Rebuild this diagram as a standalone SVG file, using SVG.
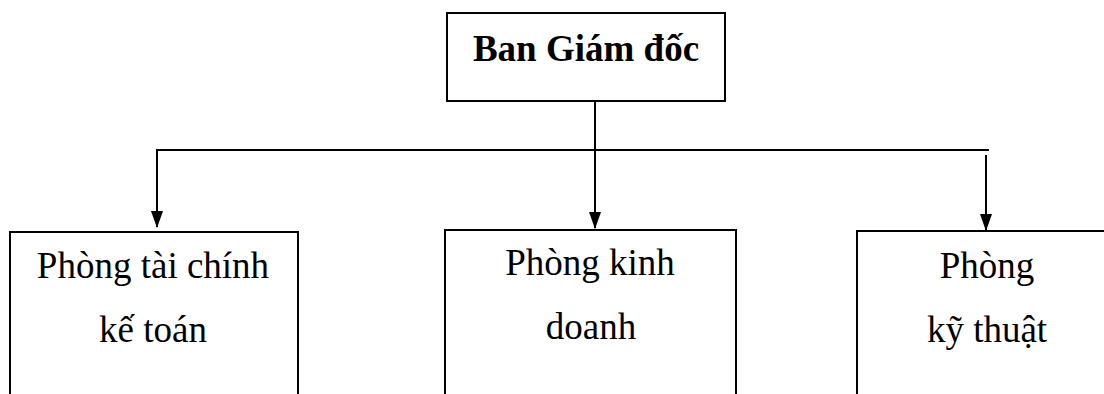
<svg xmlns="http://www.w3.org/2000/svg" width="1104" height="394" viewBox="0 0 1104 394">
<style>
.box{fill:#fff;stroke:#000;stroke-width:2}
.ln{fill:none;stroke:#000;stroke-width:2}
.arr{marker-end:url(#ah)}
.t{font-family:"Liberation Serif","Times New Roman",serif;font-size:37px;fill:#000;text-anchor:middle}
.b{font-weight:bold}
</style>
<defs>
<marker id="ah" viewBox="0 0 17 12" refX="16" refY="6" markerWidth="17" markerHeight="12" markerUnits="userSpaceOnUse" orient="auto">
<path d="M0,0 L17,6 L0,12 z" fill="#000"/>
</marker>
</defs>
<rect width="1104" height="394" fill="#fff"/>
<g id="connectors">
<line class="ln arr" x1="595" y1="101" x2="595" y2="228"/>
<line class="ln" x1="156" y1="150" x2="989" y2="150"/>
<line class="ln arr" x1="157" y1="149" x2="157" y2="227"/>
<line class="ln arr" x1="986" y1="155" x2="986" y2="230"/>
</g>
<g id="n-bgd">
<rect class="box" x="447" y="13" width="278" height="88"/>
<text class="t b" x="586" y="61">Ban Giám đốc</text>
</g>
<g id="n-tckt">
<rect class="box" x="10" y="232" width="288" height="170"/>
<text class="t" x="153" y="278">Phòng tài chính</text>
<text class="t" x="153" y="342">kế toán</text>
</g>
<g id="n-kd">
<rect class="box" x="445" y="230" width="291" height="172"/>
<text class="t" x="590" y="275">Phòng kinh</text>
<text class="t" x="591" y="339">doanh</text>
</g>
<g id="n-kt">
<rect class="box" x="857" y="231" width="260" height="171"/>
<text class="t" x="987" y="278">Phòng</text>
<text class="t" x="987" y="342">kỹ thuật</text>
</g>
</svg>
